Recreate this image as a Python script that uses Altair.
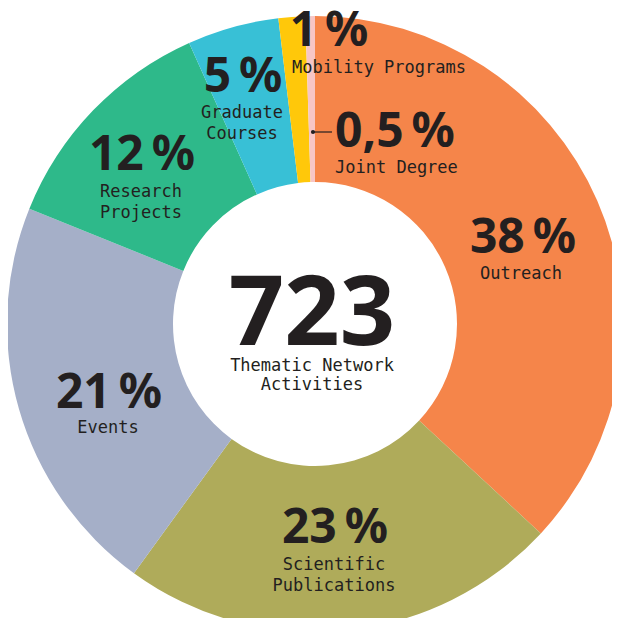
import altair as alt
import pandas as pd

categories = ["Outreach", "Scientific Publications", "Events", "Research Projects",
              "Graduate Courses", "Mobility Programs", "Joint Degree"]
shares = [36.9, 23.1, 21.1, 12.2, 4.8, 1.4, 0.5]
pct_labels = ["38\u202f%", "23\u202f%", "21\u202f%", "12\u202f%", "5\u202f%", "1\u202f%", "0,5\u202f%"]
name_labels = ["Outreach", "Scientific\nPublications", "Events", "Research\nProjects",
               "Graduate\nCourses", "Mobility Programs", "Joint Degree"]
colors = ["#F5854A", "#AFAB5A", "#A5AFC8", "#2EB98A", "#38C0D6", "#FFC80A", "#F7C6C6"]
total_value = "723"
total_label = "Thematic Network\nActivities"

df = pd.DataFrame({"cat": categories, "share": shares, "idx": list(range(len(categories)))})

CX, CY = 307, 316
TXT = "#231F20"
BIG_FONT = "Noto Sans"
MONO = "DejaVu Sans Mono"

arcs = alt.Chart(df).mark_arc(innerRadius=142, outerRadius=308).encode(
    theta=alt.Theta("share:Q", stack=True),
    color=alt.Color("cat:N", scale=alt.Scale(domain=categories, range=colors), legend=None),
    order=alt.Order("idx:Q"),
    x=alt.value(CX),
    y=alt.value(CY),
)

# label layout (chart pixel coords): pct (x, y, align), name (x, y)
layout = [
    ((515, 245, "center"), (513, 271)),
    ((327, 535, "center"), (326, 562)),
    ((101, 400, "center"), (100, 425)),
    ((134, 162, "center"), (133, 189)),
    ((235, 84, "center"), (234, 110)),
    ((321, 38, "center"), (371, 65)),
    ((327, 139, "left"), (327, 165)),
]

base = alt.Chart(pd.DataFrame({"k": [0]}))
layers = [arcs]
for i, ((px, py, al), (nx, ny)) in enumerate(layout):
    layers.append(base.mark_text(font=BIG_FONT, fontWeight="bold", fontSize=48, color=TXT,
                                 align=al, baseline="alphabetic").encode(
        x=alt.value(px), y=alt.value(py), text=alt.value(pct_labels[i])))
    layers.append(base.mark_text(font=MONO, fontSize=17, color=TXT, align=al,
                                 baseline="alphabetic", lineBreak="\n", lineHeight=20.5).encode(
        x=alt.value(nx), y=alt.value(ny), text=alt.value(name_labels[i])))

leader = base.mark_rule(color=TXT, strokeWidth=1.2).encode(
    x=alt.value(305), x2=alt.value(324), y=alt.value(124))
dot = base.mark_point(filled=True, size=18, color=TXT, opacity=1).encode(
    x=alt.value(305), y=alt.value(124))
layers += [leader, dot]

layers.append(base.mark_text(font=BIG_FONT, fontWeight="bold", fontSize=97, color=TXT,
                             align="center", baseline="alphabetic").encode(
    x=alt.value(CX - 3), y=alt.value(337), text=alt.value(total_value)))
layers.append(base.mark_text(font=MONO, fontSize=17, color=TXT, align="center",
                             baseline="alphabetic", lineBreak="\n", lineHeight=19).encode(
    x=alt.value(CX - 3), y=alt.value(363), text=alt.value(total_label)))

chart = alt.layer(*layers).properties(
    width=604, height=610, padding=0,
    autosize=alt.AutoSizeParams(type="none"),
).configure_view(strokeWidth=0)

chart.save("out.html", embed_options={"renderer": "svg", "actions": False})
